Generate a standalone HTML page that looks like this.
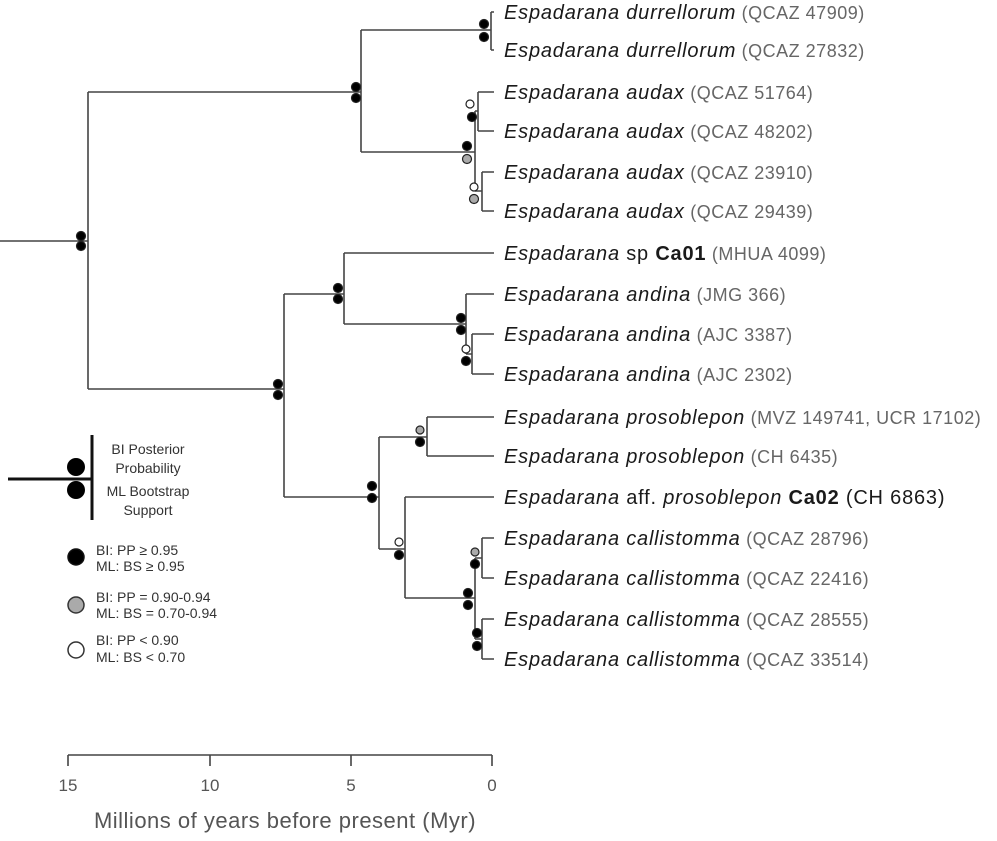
<!DOCTYPE html>
<html><head><meta charset="utf-8"><style>
html,body{margin:0;padding:0;background:#fff;}
svg{display:block;font-family:"Liberation Sans",Arial,sans-serif;}
.t{font-size:20px;fill:#1a1a1a;letter-spacing:0.8px;}
.p{font-size:18px;fill:#666;font-style:normal;letter-spacing:0.5px;}
.i{font-style:italic;}
.b{font-weight:bold;}
.l{font-size:14px;fill:#333;}
</style></head><body>
<svg width="997" height="841" viewBox="0 0 997 841" xmlns="http://www.w3.org/2000/svg">
<g stroke="#444" stroke-width="1.6" fill="none">
<path d="M0 241H88M88 92V389"/>
<path d="M88 92H361M361 30V152"/>
<path d="M361 30H491M491 12V50M491 12H494M491 50H494"/>
<path d="M361 152H475M475 111V191"/>
<path d="M475 111H478M478 92V131M478 92H494M478 131H494"/>
<path d="M475 191H482M482 172V211M482 172H494M482 211H494"/>
<path d="M88 389H284M284 294V497"/>
<path d="M284 294H344M344 253V324M344 253H494"/>
<path d="M344 324H466M466 294V354M466 294H494"/>
<path d="M466 354H472M472 334V374M472 334H494M472 374H494"/>
<path d="M284 497H379M379 437V549"/>
<path d="M379 437H427M427 417V456M427 417H494M427 456H494"/>
<path d="M379 549H405M405 497V598M405 497H494"/>
<path d="M405 598H475M475 558V639"/>
<path d="M475 558H482M482 538V578M482 538H494M482 578H494"/>
<path d="M475 639H482M482 619V659M482 619H494M482 659H494"/>
</g>
<g stroke="#222" stroke-width="1.2">
<circle cx="81" cy="236" r="4.5" fill="#000"/><circle cx="81" cy="246" r="4.5" fill="#000"/>
<circle cx="356" cy="87" r="4.5" fill="#000"/><circle cx="356" cy="98" r="4.5" fill="#000"/>
<circle cx="484" cy="24" r="4.5" fill="#000"/><circle cx="484" cy="37" r="4.5" fill="#000"/>
<circle cx="470" cy="104" r="4" fill="#fff"/><circle cx="472" cy="117" r="4.5" fill="#000"/>
<circle cx="467" cy="146" r="4.5" fill="#000"/><circle cx="467" cy="159" r="4.5" fill="#aaa"/>
<circle cx="474" cy="187" r="4" fill="#fff"/><circle cx="474" cy="199" r="4.5" fill="#aaa"/>
<circle cx="278" cy="384" r="4.5" fill="#000"/><circle cx="278" cy="395" r="4.5" fill="#000"/>
<circle cx="338" cy="288" r="4.5" fill="#000"/><circle cx="338" cy="299" r="4.5" fill="#000"/>
<circle cx="461" cy="318" r="4.5" fill="#000"/><circle cx="461" cy="330" r="4.5" fill="#000"/>
<circle cx="466" cy="349" r="4" fill="#fff"/><circle cx="466" cy="361" r="4.5" fill="#000"/>
<circle cx="372" cy="486" r="4.5" fill="#000"/><circle cx="372" cy="498" r="4.5" fill="#000"/>
<circle cx="420" cy="430" r="4" fill="#aaa"/><circle cx="420" cy="442" r="4.5" fill="#000"/>
<circle cx="399" cy="542" r="4" fill="#fff"/><circle cx="399" cy="555" r="4.5" fill="#000"/>
<circle cx="468" cy="593" r="4.5" fill="#000"/><circle cx="468" cy="605" r="4.5" fill="#000"/>
<circle cx="475" cy="552" r="4" fill="#aaa"/><circle cx="475" cy="564" r="4.5" fill="#000"/>
<circle cx="477" cy="633" r="4.5" fill="#000"/><circle cx="477" cy="646" r="4.5" fill="#000"/>
</g>
<g class="t">
<text x="504" y="19"><tspan class="i">Espadarana durrellorum</tspan><tspan class="p"> (QCAZ 47909)</tspan></text>
<text x="504" y="57"><tspan class="i">Espadarana durrellorum</tspan><tspan class="p"> (QCAZ 27832)</tspan></text>
<text x="504" y="99"><tspan class="i">Espadarana audax</tspan><tspan class="p"> (QCAZ 51764)</tspan></text>
<text x="504" y="138"><tspan class="i">Espadarana audax</tspan><tspan class="p"> (QCAZ 48202)</tspan></text>
<text x="504" y="179"><tspan class="i">Espadarana audax</tspan><tspan class="p"> (QCAZ 23910)</tspan></text>
<text x="504" y="218"><tspan class="i">Espadarana audax</tspan><tspan class="p"> (QCAZ 29439)</tspan></text>
<text x="504" y="260"><tspan class="i">Espadarana</tspan> sp <tspan class="b">Ca01</tspan><tspan class="p">  (MHUA 4099)</tspan></text>
<text x="504" y="301"><tspan class="i">Espadarana andina</tspan><tspan class="p">  (JMG 366)</tspan></text>
<text x="504" y="341"><tspan class="i">Espadarana andina</tspan><tspan class="p"> (AJC 3387)</tspan></text>
<text x="504" y="381"><tspan class="i">Espadarana andina</tspan><tspan class="p"> (AJC 2302)</tspan></text>
<text x="504" y="424"><tspan class="i">Espadarana prosoblepon</tspan><tspan class="p"> (MVZ 149741, UCR 17102)</tspan></text>
<text x="504" y="463"><tspan class="i">Espadarana prosoblepon</tspan><tspan class="p"> (CH 6435)</tspan></text>
<text x="504" y="504"><tspan class="i">Espadarana</tspan> aff. <tspan class="i">prosoblepon</tspan> <tspan class="b">Ca02</tspan> (CH 6863)</text>
<text x="504" y="545"><tspan class="i">Espadarana callistomma</tspan><tspan class="p"> (QCAZ 28796)</tspan></text>
<text x="504" y="585"><tspan class="i">Espadarana callistomma</tspan><tspan class="p"> (QCAZ 22416)</tspan></text>
<text x="504" y="626"><tspan class="i">Espadarana callistomma</tspan><tspan class="p"> (QCAZ 28555)</tspan></text>
<text x="504" y="666"><tspan class="i">Espadarana callistomma</tspan><tspan class="p"> (QCAZ 33514)</tspan></text>
</g>
<path d="M8 479H92M92 435V520" stroke="#111" stroke-width="3" fill="none"/>
<circle cx="76" cy="467" r="9" fill="#000"/><circle cx="76" cy="490" r="9" fill="#000"/>
<g class="l" text-anchor="middle">
<text x="148" y="454">BI Posterior</text>
<text x="148" y="473">Probability</text>
<text x="148" y="496">ML Bootstrap</text>
<text x="148" y="515">Support</text>
</g>
<circle cx="76" cy="557" r="8" fill="#000" stroke="#111" stroke-width="1.5"/>
<circle cx="76" cy="605" r="8" fill="#aaa" stroke="#333" stroke-width="1.5"/>
<circle cx="76" cy="650" r="8" fill="#fff" stroke="#333" stroke-width="1.5"/>
<g class="l">
<text x="96" y="555">BI: PP ≥ 0.95</text>
<text x="96" y="571">ML: BS ≥ 0.95</text>
<text x="96" y="602">BI: PP = 0.90-0.94</text>
<text x="96" y="618">ML: BS = 0.70-0.94</text>
<text x="96" y="645">BI: PP &lt; 0.90</text>
<text x="96" y="662">ML: BS &lt; 0.70</text>
</g>
<path d="M68 755H492M68 755V766M210 755V766M351 755V766M492 755V766" stroke="#444" stroke-width="1.6" fill="none"/>
<g font-size="17" fill="#555" text-anchor="middle">
<text x="68" y="791">15</text><text x="210" y="791">10</text><text x="351" y="791">5</text><text x="492" y="791">0</text>
</g>
<text x="285" y="828" font-size="22" letter-spacing="0.5" fill="#555" text-anchor="middle">Millions of years before present (Myr)</text>
</svg>
</body></html>
